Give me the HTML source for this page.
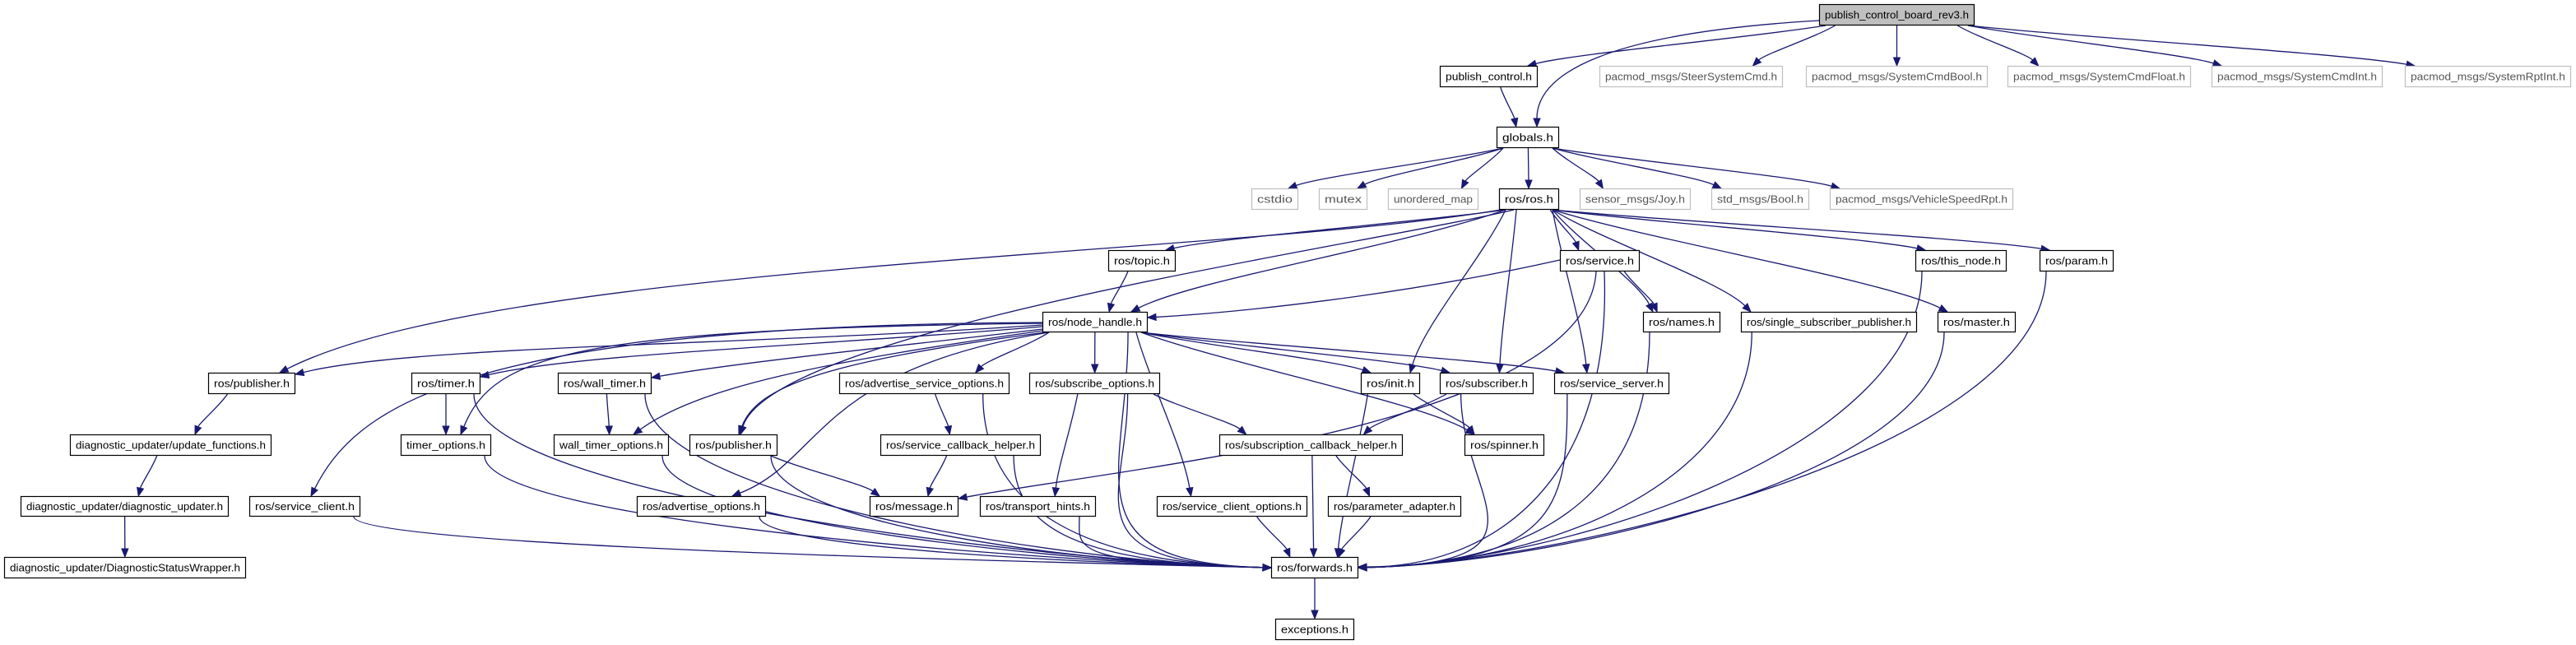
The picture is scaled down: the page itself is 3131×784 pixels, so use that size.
<!DOCTYPE html>
<html><head><meta charset="utf-8"><style>
html,body{margin:0;padding:0;background:#fff;}
svg{display:block;}
</style></head><body>
<svg id="g" width="3131" height="784" xmlns="http://www.w3.org/2000/svg" font-family="'Liberation Sans', sans-serif"></svg>
<script>
const N={
root:[2211,5,2400,31,'publish_control_board_rev3.h',2],
pc:[1750,80,1869,106,'publish_control.h',0],
steer:[1944,80,2167,106,'pacmod_msgs/SteerSystemCmd.h',1],
sbool:[2195,80,2416,106,'pacmod_msgs/SystemCmdBool.h',1],
sfloat:[2440,80,2663,106,'pacmod_msgs/SystemCmdFloat.h',1],
sint:[2688,80,2896,106,'pacmod_msgs/SystemCmdInt.h',1],
srpt:[2923,80,3125,106,'pacmod_msgs/SystemRptInt.h',1],
glob:[1819,154,1895,180,'globals.h',0],
cstdio:[1521,229,1578,255,'cstdio',1],
mutex:[1603,229,1662,255,'mutex',1],
umap:[1687,229,1797,255,'unordered_map',1],
ros:[1822,229,1895,255,'ros/ros.h',0],
joy:[1920,229,2055,255,'sensor_msgs/Joy.h',1],
bool:[2080,229,2199,255,'std_msgs/Bool.h',1],
vsr:[2224,229,2447,255,'pacmod_msgs/VehicleSpeedRpt.h',1],
topic:[1347,304,1429,330,'ros/topic.h',0],
service:[1896,304,1993,330,'ros/service.h',0],
thisnode:[2328,304,2439,330,'ros/this_node.h',0],
param:[2479,304,2569,330,'ros/param.h',0],
nh:[1267,379,1395,404,'ros/node_handle.h',0],
names:[1997,379,2091,404,'ros/names.h',0],
ssp:[2116,379,2330,404,'ros/single_subscriber_publisher.h',0],
master:[2355,379,2450,404,'ros/master.h',0],
pub1:[253,453,359,479,'ros/publisher.h',0],
timer:[500,453,584,479,'ros/timer.h',0],
wtimer:[678,453,792,479,'ros/wall_timer.h',0],
aso:[1020,453,1227,479,'ros/advertise_service_options.h',0],
so:[1251,453,1410,479,'ros/subscribe_options.h',0],
init:[1654,453,1726,479,'ros/init.h',0],
sub:[1750,453,1864,479,'ros/subscriber.h',0],
ss:[1889,453,2029,479,'ros/service_server.h',0],
uf:[85,528,330,554,'diagnostic_updater/update_functions.h',0],
to:[487,528,597,554,'timer_options.h',0],
wto:[673,528,813,554,'wall_timer_options.h',0],
pub2:[838,528,945,554,'ros/publisher.h',0],
sch:[1070,528,1265,554,'ros/service_callback_helper.h',0],
subch:[1482,528,1705,554,'ros/subscription_callback_helper.h',0],
spin:[1780,528,1877,554,'ros/spinner.h',0],
du:[25,603,278,628,'diagnostic_updater/diagnostic_updater.h',0],
sc:[303,603,438,628,'ros/service_client.h',0],
ao:[774,603,931,628,'ros/advertise_options.h',0],
msg:[1057,603,1165,628,'ros/message.h',0],
th:[1191,603,1332,628,'ros/transport_hints.h',0],
sco:[1406,603,1589,628,'ros/service_client_options.h',0],
pa:[1614,603,1776,628,'ros/parameter_adapter.h',0],
dsw:[5,677,299,703,'diagnostic_updater/DiagnosticStatusWrapper.h',0],
fw:[1545,677,1651,703,'ros/forwards.h',0],
exc:[1550,752,1646,778,'exceptions.h',0]
};
const O={
'root>glob':{s:[2211,25],c1:[1950,40],c2:[1868,90],e:[1868,154]},
'ros>pub1':{s:[1824,255],c1:[1500,310],c2:[600,320],e:[340,453]},
'ros>pub2':{s:[1840,255],c1:[1650,300],c2:[940,400],e:[900,528]},
'ros>nh':{s:[1830,255],c1:[1700,300],c2:[1450,340],e:[1375,379]},
'nh>pub1':{s:[1267,395],c1:[900,420],c2:[500,420],e:[359,455]},
'nh>timer':{s:[1267,397],c1:[1000,420],c2:[700,430],e:[584,458]},
'nh>wtimer':{s:[1267,400],c1:[1100,420],c2:[900,440],e:[792,459]},
'nh>to':{s:[1267,393],c1:[700,400],c2:[600,430],e:[560,528]},
'nh>wto':{s:[1267,402],c1:[1000,440],c2:[850,470],e:[770,528]},
'nh>pub2':{s:[1270,404],c1:[1000,440],c2:[920,470],e:[898,528]},
'nh>sc':{s:[1267,392],c1:[550,395],c2:[430,500],e:[378,603]},
'nh>ao':{s:[1275,404],c1:[990,450],c2:[1000,560],e:[890,603]},
'service>nh':{s:[1896,316],c1:[1700,360],c2:[1500,380],e:[1395,386]},
'service>msg':{s:[1940,330],c1:[1930,520],c2:[1350,570],e:[1165,606]},
'service>fw':{s:[1950,330],c1:[1960,600],c2:[1800,690],e:[1651,689]}
};
const E=[
['root','pc'],['root','glob'],['root','steer'],['root','sbool'],['root','sfloat'],['root','sint'],['root','srpt'],
['pc','glob'],
['glob','cstdio'],['glob','mutex'],['glob','umap'],['glob','ros'],['glob','joy'],['glob','bool'],['glob','vsr'],
['ros','pub1'],['ros','topic'],['ros','nh'],['ros','pub2'],['ros','init'],['ros','sub'],['ros','ss'],['ros','service'],['ros','names'],['ros','ssp'],['ros','master'],['ros','thisnode'],['ros','param'],
['topic','nh'],
['service','nh'],['service','names'],['service','msg'],['service','fw'],
['thisnode','fw'],['param','fw'],['names','fw'],['ssp','fw'],['master','fw'],
['nh','pub1'],['nh','timer'],['nh','wtimer'],['nh','to'],['nh','wto'],['nh','pub2'],['nh','sc'],['nh','ao'],['nh','aso'],['nh','so'],['nh','sco'],['nh','init'],['nh','sub'],['nh','ss'],['nh','spin'],['nh','fw'],
['timer','to'],['timer','fw'],['wtimer','wto'],['wtimer','fw'],
['pub1','uf'],['uf','du'],['du','dsw'],
['to','fw'],['wto','fw'],['pub2','msg'],['pub2','fw'],['sc','fw'],['ao','fw'],
['aso','sch'],['aso','fw'],['sch','msg'],['sch','fw'],
['so','th'],['so','fw'],['so','subch'],['th','fw'],['sco','fw'],
['subch','pa'],['subch','fw'],['pa','fw'],
['init','spin'],['init','fw'],['sub','subch'],['sub','fw'],['ss','fw'],
['fw','exc']
];
const svg=document.getElementById('g');
let out='';
const C='#191970';
function cl(v,a,b){return Math.max(a,Math.min(b,v));}
for(const [a,b] of E){
  const A=N[a],B=N[b];
  const acx=(A[0]+A[2])/2,bcx=(B[0]+B[2])/2;
  let sx,sy,ex,ey,c1x,c1y,c2x,c2y;
  const o=O[a+'>'+b];
  if(o){
    [sx,sy]=o.s;[c1x,c1y]=o.c1;[c2x,c2y]=o.c2;[ex,ey]=o.e;
  } else if(b==='fw' && Math.abs(acx-bcx)>200){
    sx=cl(acx+(bcx-acx)*0.15,A[0]+8,A[2]-8); sy=A[3];
    const left=acx<bcx;
    ex=left?B[0]:B[2]; ey=690;
    c1x=sx; c1y=sy+(ey-sy)*0.6;
    c2x=ex+(left?-250:250); c2y=ey-6;
  } else {
    sx=cl(acx+(bcx-acx)*0.3,A[0]+8,A[2]-8); sy=A[3];
    ex=cl(bcx+(acx-bcx)*0.3,B[0]+12,B[2]-12); ey=B[1];
    const dy=ey-sy;
    c1x=sx+(ex-sx)*0.25; c1y=sy+dy*0.3;
    c2x=ex-(ex-sx)*0.15; c2y=ey-dy*0.3;
  }
  let dx=ex-c2x,dyy=ey-c2y,L=Math.hypot(dx,dyy)||1; dx/=L;dyy/=L;
  const al=10,aw=4;
  const bx=ex-dx*al,by=ey-dyy*al;
  out+=`<path d="M${sx},${sy} C${c1x},${c1y} ${c2x},${c2y} ${bx},${by}" fill="none" stroke="${C}" stroke-width="1.3"/>`;
  out+=`<polygon points="${ex},${ey} ${bx-dyy*aw},${by+dx*aw} ${bx+dyy*aw},${by-dx*aw}" fill="${C}" stroke="${C}"/>`;
}
for(const k in N){
  const [x1,y1,x2,y2,t,g]=N[k];
  const w=x2-x1,h=y2-y1;
  const fill=g===2?'#bfbfbf':'#fff';
  const st=g===1?'#bfbfbf':'#000';
  const tc=g===1?'#555':'#000';
  out+=`<rect x="${x1+0.5}" y="${y1+0.5}" width="${w-1}" height="${h-1}" fill="${fill}" stroke="${st}" stroke-width="1.2"/>`;
  out+=`<text x="${(x1+x2)/2}" y="${y1+h/2+4.5}" font-size="13" text-anchor="middle" fill="${tc}" textLength="${w-14}" lengthAdjust="spacingAndGlyphs">${t}</text>`;
}
svg.innerHTML=out;
</script>
</body></html>
